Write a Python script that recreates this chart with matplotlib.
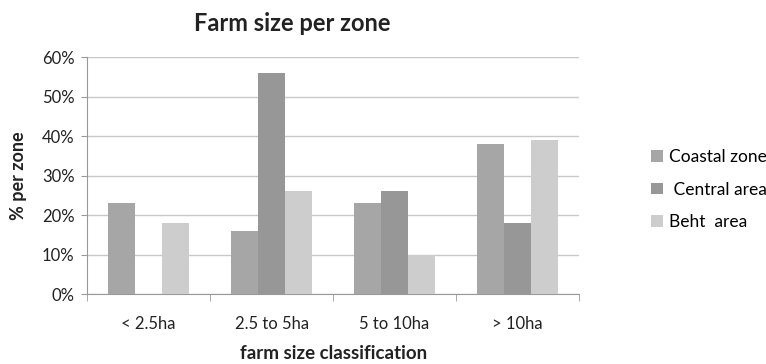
import matplotlib.pyplot as plt
import numpy as np

plt.rcParams['font.family'] = ['Lato', 'DejaVu Sans']

categories = ["< 2.5ha", "2.5 to 5ha", "5 to 10ha", "> 10ha"]
coastal = [23, 16, 23, 38]
central = [0, 56, 26, 18]
beht = [18, 26, 10, 39]
series_names = ["Coastal zone", " Central area", "Beht  area"]

fig = plt.figure(figsize=(7.66, 3.64), dpi=100)
ax = fig.add_axes([0.1136, 0.1923, 0.6425, 0.6511])

x = np.arange(len(categories))
w = 0.22
colors = ['#a6a6a6', '#979797', '#cdcdcd']
for i, (vals, name) in enumerate(zip([coastal, central, beht], series_names)):
    ax.bar(x + (i - 1) * w, vals, w, color=colors[i], label=name, zorder=3)

ax.set_xlim(-0.5, len(categories) - 0.5)
ax.set_ylim(0, 60)
ax.set_yticks(range(0, 61, 10))
ax.set_yticklabels([f"{v}%" for v in range(0, 61, 10)], fontsize=12, color='#222222')
ax.set_xticks(x)
ax.set_xticklabels(categories, fontsize=12, color='#222222')
ax.tick_params(axis='x', length=0, pad=16)
ax.tick_params(axis='y', length=4, color='#999999', pad=5)
ax.set_xticks(np.arange(-0.5, len(categories)), minor=True)
ax.tick_params(axis='x', which='minor', length=5, color='#999999')

ax.grid(axis='y', color='#c8c8c8', linewidth=1, zorder=0)
for s in ['top', 'right']:
    ax.spines[s].set_visible(False)
ax.spines['left'].set_color('#999999')
ax.spines['bottom'].set_color('#999999')

ax.set_title("Farm size per zone", fontsize=17, fontweight='bold', pad=19, color='#222222', x=0.417)
ax.set_ylabel("% per zone", fontsize=13, fontweight='bold', color='#222222', labelpad=11)
ax.set_xlabel("farm size classification", fontsize=13.5, fontweight='bold', color='#222222', labelpad=9)

ax.legend(loc='center left', bbox_to_anchor=(1.115, 0.44), frameon=False, fontsize=12.5,
          handlelength=0.65, handleheight=0.65, handletextpad=0.35, labelspacing=0.95)

fig.savefig("out.png", dpi=100)
